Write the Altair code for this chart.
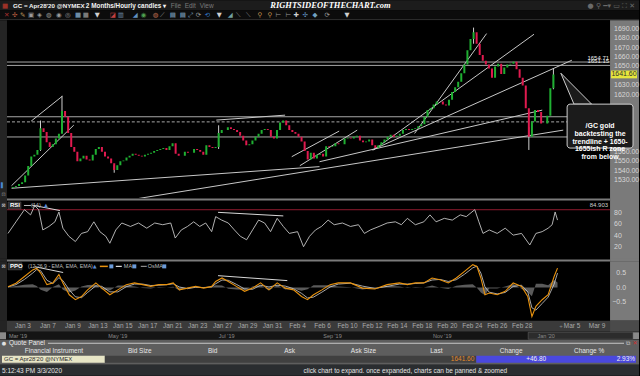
import altair as alt
import pandas as pd

FONT = "Liberation Sans"
NARROW = "Liberation Sans Narrow"
W = 640

# ---------------- data ----------------
# /GC (Apr '20) price, one value every quarter trading day, Jan 2 - Mar 3 2020
close = [1523, 1524, 1526, 1528, 1535, 1545, 1555, 1557, 1562, 1585,
         1581, 1570, 1565, 1568, 1574, 1579, 1603, 1597, 1580, 1565,
         1560, 1550, 1553, 1556, 1552, 1551, 1557, 1563, 1565, 1560,
         1555, 1553, 1548, 1541, 1546, 1550, 1551, 1554, 1556, 1558,
         1557, 1556, 1555, 1557, 1558, 1559, 1561, 1562, 1563, 1564,
         1562, 1566, 1569, 1558, 1556, 1556, 1560, 1559, 1559, 1563,
         1562, 1560, 1557, 1567, 1565, 1564, 1565, 1580, 1583, 1583,
         1586, 1584, 1583, 1581, 1577, 1572, 1567, 1568, 1572, 1576,
         1579, 1583, 1584, 1583, 1576, 1574, 1583, 1591, 1593, 1588,
         1583, 1581, 1579, 1576, 1571, 1561, 1552, 1559, 1553, 1557,
         1558, 1555, 1566, 1565, 1566, 1569, 1568, 1568, 1574, 1575,
         1574, 1576, 1577, 1572, 1570, 1571, 1573, 1567, 1564, 1567,
         1570, 1573, 1576, 1578, 1576, 1577, 1579, 1583, 1584, 1583,
         1584, 1585, 1587, 1589, 1597, 1604, 1606, 1610, 1613, 1613,
         1610, 1609, 1615, 1623, 1628, 1634, 1643, 1652, 1667, 1679,
         1686, 1674, 1662, 1656, 1652, 1648, 1638, 1650, 1653, 1642,
         1649, 1652, 1653, 1655, 1647, 1638, 1630, 1606, 1576, 1592,
         1604, 1602, 1590, 1590, 1598, 1627, 1641.6]
first_open = 1522
spike_bar = [9, 16, 33, 67, 150, 168, 176]
spike_high = [1593, 1619, 1546, 1588, 1691, 1586, 1648]
spike_low = [1561, 1596, 1538, 1563, 1674, 1562, 1626]

level_price = [1654.71, 1651.15, 1597.0, 1575.7]
dashed_level = [1591.6]
price_ticks = [1690, 1680, 1670, 1660, 1650, 1630, 1620, 1560, 1550, 1540, 1530]
last_price = 1641.60

# drawn trendlines (trading-day index, price)
trend_d1 = [-0.31, 1.29, -0.31, 9.29, 24.76, 16.36, 22.5, 23.16, 32.5, 29.16, 29.03]
trend_p1 = [1524.3, 1592.4, 1521.6, 1509.3, 1549.6, 1593.5, 1554.9, 1545.4, 1579.4, 1561.9, 1561.9]
trend_d2 = [4.76, 3.83, 24.76, 44.6, 42.89, 21.96, 26.36, 27.83, 38.36, 42.22, 45.3]
trend_p2 = [1588.2, 1618.7, 1544.4, 1582.9, 1604.0, 1598.7, 1581.9, 1582.9, 1684.7, 1684.0, 1656.6]

# RSI(14)
rsi_t = [-0.20, 0.44, 1.12, 1.61, 1.94, 2.26, 2.59, 3.08, 3.56, 3.88, 4.20, 4.68, 5.20, 5.69,
         6.18, 6.68, 7.16, 7.64, 7.96, 8.44, 8.92, 9.61, 10.26, 10.92, 11.56, 12.20, 12.84,
         13.20, 13.69, 14.18, 14.68, 15.16, 15.64, 16.12, 16.44, 16.92, 17.45, 17.94, 18.42,
         18.92, 19.40, 19.88, 20.36, 20.84, 21.37, 21.86, 22.34, 23.00, 23.48, 23.96, 24.44,
         24.92, 25.45, 25.94, 26.60, 27.24, 27.88, 28.36, 28.84, 29.53, 30.18, 30.84, 31.32,
         31.80, 32.44, 33.12, 33.61, 34.10, 34.76, 35.40, 36.04, 36.52, 37.20, 37.53, 37.86,
         38.36, 39.00, 39.64, 40.28, 40.95, 41.61, 42.10, 42.60, 43.08, 43.40, 43.64, 43.83]
rsi_v = [44, 64, 85, 76, 92, 85, 50, 56, 64, 81, 53, 39, 30, 44, 47, 64, 47, 39, 27, 50,
         62, 56, 62, 53, 62, 59, 62, 36, 50, 56, 64, 56, 62, 47, 73, 67, 62, 50, 39, 33,
         50, 67, 62, 47, 70, 56, 44, 47, 21, 39, 50, 56, 67, 59, 62, 56, 59, 44, 50, 56,
         62, 64, 59, 70, 59, 64, 76, 64, 70, 67, 76, 73, 85, 64, 44, 50, 44, 53, 41, 44,
         24, 44, 47, 53, 59, 81, 67]
rsi_max = 84.903
rsi_ticks = [80, 60, 40, 20]
rsi_tl_d1 = [1.70, 16.63]
rsi_tl_v1 = [93, 80.4]
rsi_tl_d2 = [3.96, 21.86]
rsi_tl_v2 = [83.5, 74.2]

# PPO(12,26,9) and its MA
ppo_t = [-0.20, 0.44, 1.12, 1.78, 2.10, 2.42, 2.92, 3.40, 3.88, 4.20, 4.71, 5.20, 5.69, 6.18,
         6.84, 7.32, 7.96, 8.60, 9.28, 9.94, 10.59, 11.24, 11.88, 12.52, 13.04, 13.53, 14.18,
         14.84, 15.48, 16.12, 16.44, 16.95, 17.45, 18.10, 18.76, 19.40, 20.04, 20.71, 21.37,
         22.02, 22.68, 23.32, 23.80, 24.28, 24.95, 25.61, 26.26, 27.24, 28.20, 29.20, 30.18,
         31.16, 31.80, 32.44, 33.12, 33.78, 34.42, 35.08, 35.72, 36.38, 37.04, 37.37, 37.69,
         38.02, 38.36, 39.00, 39.64, 40.28, 40.95, 41.45, 41.78, 42.10, 42.60, 43.08, 43.56, 43.83]
ppo_v = [0.03, 0.15, 0.38, 0.61, 0.67, 0.50, 0.10, 0.16, 0.45, 0.16,
         -0.25, -0.42, -0.31, -0.08, 0.16, -0.02, -0.25, -0.08, 0.10, 0.16,
         0.10, 0.04, 0.10, 0.10, 0.16, -0.08, -0.02, 0.04, -0.02, 0.04,
         0.21, 0.33, 0.21, 0.04, -0.13, -0.02, 0.16, -0.08, 0.16, -0.02,
         -0.08, -0.31, -0.42, -0.25, -0.08, 0.10, 0.16, 0.16, -0.02, -0.05,
         0.10, 0.16, 0.10, 0.16, 0.16, 0.33, 0.27, 0.16, 0.33, 0.56,
         0.79, 0.73, 0.33, -0.25, -0.19, -0.25, -0.13, 0.16, 0.04, -0.31,
         -1.0, -0.65, -0.42, -0.25, 0.38, 0.67]
ppo_ma = [0.02, 0.10, 0.28, 0.50, 0.62, 0.58, 0.25, 0.14, 0.34, 0.24,
          -0.08, -0.32, -0.35, -0.17, 0.06, 0.04, -0.15, -0.15, 0.03, 0.12,
          0.12, 0.07, 0.08, 0.10, 0.13, 0.02, -0.04, 0.01, 0.00, 0.02,
          0.13, 0.26, 0.25, 0.11, -0.05, -0.06, 0.08, 0.02, 0.08, 0.05,
          -0.04, -0.20, -0.36, -0.33, -0.16, 0.02, 0.12, 0.15, 0.05, -0.03,
          0.04, 0.12, 0.12, 0.14, 0.16, 0.26, 0.28, 0.21, 0.27, 0.46,
          0.68, 0.74, 0.50, 0.02, -0.16, -0.22, -0.17, 0.04, 0.08, -0.15,
          -0.70, -0.78, -0.55, -0.33, 0.12, 0.50]
ppo_ticks = [0.5, 0.0, -0.5]
ppo_tl_d1 = [1.94, 16.63]
ppo_tl_v1 = [0.72, 0.41]
ppo_tl_d2 = [4.22, 22.18]
ppo_tl_v2 = [0.52, 0.24]

date_day = [1, 3, 5, 7, 9, 11, 13, 15, 17, 19, 21, 23, 25, 27, 29, 31, 33, 35, 37, 39, 41, 45, 47]
date_lab = ["Jan 3", "Jan 7", "Jan 9", "Jan 13", "Jan 15", "Jan 17", "Jan 21", "Jan 23",
            "Jan 27", "Jan 29", "Jan 31", "Feb 4", "Feb 6", "Feb 10", "Feb 12", "Feb 14",
            "Feb 18", "Feb 20", "Feb 24", "Feb 26", "Feb 28", "Mar 5", "Mar 9"]

# ---------------- frames ----------------
n = len(close)
candles = pd.DataFrame({
    "day": [-0.2 + 0.25 * i for i in range(n)],
    "o": [first_open] + close[:-1],
    "c": close,
})
spikes = pd.DataFrame({"day": [-0.2 + 0.25 * i for i in spike_bar], "hi": spike_high, "lo": spike_low})
levels = pd.DataFrame({"p": level_price})
dlevels = pd.DataFrame({"p": dashed_level})
trends = pd.DataFrame({"d1": trend_d1, "p1": trend_p1, "d2": trend_d2, "p2": trend_p2})
rsi = pd.DataFrame({"t": rsi_t, "v": rsi_v})
rsi_tl = pd.DataFrame({"d1": rsi_tl_d1, "v1": rsi_tl_v1, "d2": rsi_tl_d2, "v2": rsi_tl_v2})
ppo = pd.DataFrame({"t": ppo_t, "ppo": ppo_v, "ma": ppo_ma})
ppo_tl = pd.DataFrame({"d1": ppo_tl_d1, "v1": ppo_tl_v1, "d2": ppo_tl_d2, "v2": ppo_tl_v2})
dates = pd.DataFrame({"day": date_day, "lab": date_lab})
lastdf = pd.DataFrame({"p": [last_price]})
rsimaxdf = pd.DataFrame({"v": [rsi_max]})
pticks = pd.DataFrame({"p": price_ticks})
rticks = pd.DataFrame({"v": rsi_ticks})
oticks = pd.DataFrame({"v": ppo_ticks})

XS = alt.Scale(domain=[-0.84, 50.36], nice=False, zero=False)
YM = alt.Scale(domain=[1511.37, 1698.74], nice=False, zero=False)
YR = alt.Scale(domain=[0, 100], nice=False, zero=False)
YP = alt.Scale(domain=[-1.148, 0.886], nice=False, zero=False)

ONE = alt.Data(values=[{"k": 0}])
STRIP = "#7a7a7a"
AXLAB = "#d6d6d6"


def box(x, x2, y, y2, fill, stroke=None, sw=0, r=0):
    kw = dict(fill=fill)
    if stroke:
        kw.update(stroke=stroke, strokeWidth=sw)
    if r:
        kw["cornerRadius"] = r
    return alt.Chart(ONE).mark_rect(**kw).encode(
        x=alt.value(x), x2=alt.value(x2), y=alt.value(y), y2=alt.value(y2))


def label(s, x, y, size=7, color="#dddddd", align="left", weight="normal", font=FONT, style=None, lh=None):
    kw = dict(fontSize=size, color=color, align=align, baseline="middle", fontWeight=weight, font=font)
    if style:
        kw["fontStyle"] = style
    if lh:
        kw["lineHeight"] = lh
    return alt.Chart(ONE).mark_text(**kw).encode(x=alt.value(x), y=alt.value(y), text=alt.value(s))


def hline(x, x2, y, color, sw=1, dash=None):
    kw = dict(color=color, strokeWidth=sw)
    if dash:
        kw["strokeDash"] = dash
    return alt.Chart(ONE).mark_rule(**kw).encode(x=alt.value(x), x2=alt.value(x2), y=alt.value(y))


def ticklabels(df, field, scale, fmt, x, align="left"):
    return alt.Chart(df).mark_text(fontSize=7, font=FONT, color=AXLAB, align=align,
                                   baseline="middle").encode(
        y=alt.Y(f"{field}:Q", scale=scale, axis=None), x=alt.value(x),
        text=alt.Text(f"{field}:Q", format=fmt))


def row(layers, h):
    return alt.layer(*layers).properties(width=W, height=h)


# ---------------- header ----------------
hdr = [box(0, W, 0, 10, "#1c1c1c"), box(0, W, 10, 19, "#0c0c0c"), box(0, W, 19, 20, "#3a3a3a"),
       label("▦", 5, 5.5, 6.5, "#c0392b", align="center", font="DejaVu Sans"),
       label("GC = Apr28'20 @NYMEX", 13, 5.5, 6.2, "#f2f2f2", weight="bold"),
       label("2 Months/Hourly candles ▾", 86, 5.5, 6.4, "#f2f2f2", weight="bold"),
       label("File", 171, 5.5, 6.5, "#7a7a7a"), label("Edit", 185, 5.5, 6.5, "#7a7a7a"),
       label("View", 200, 5.5, 6.5, "#7a7a7a"),
       label("RIGHTSIDEOFTHECHART.com", 331, 5, 8.5, "#ffffff", align="center", weight="bold",
             font=NARROW, style="italic"),
       label("●  ⚲  ━▾  ▭ ⛶ ✕", 636, 5.5, 7, "#6a6a6a", align="right", font="DejaVu Sans")]
icons = [("✕", "#b03030"), ("✣", "#c06040"), ("✎", "#c9a060"), ("▣", "#9a9a9a"), ("◈", "#9a9a9a"),
         ("◍", "#9a9a9a"), ("◉", "#9a9a9a"), ("◎", "#9a9a9a"), ("▦", "#8ab0d0"), ("▦", "#9a9a9a"),
         ("▼", "#d0d0d0"), ("◪", "#c04040"), ("▥", "#7090b0"), ("◢", "#6090c0"), ("◉", "#50a050"),
         ("◍", "#c07050"), ("⟋", "#9a9a9a"), ("▤", "#8ab0d0"), ("▤", "#8ab0d0"), ("⤢", "#8ab0d0"),
         ("⟳", "#9a9a9a"), ("⟲", "#3070c0"), ("▼", "#d0d0d0"), ("◢", "#70a0a0"), ("⟍", "#9a9a9a"),
         ("⟍", "#9a9a9a"), ("⚲", "#c09050"), ("⚲", "#c09050"), ("⊢", "#9a9a9a"), ("⊢", "#9a9a9a"),
         ("✚", "#d0d0d0"), ("✣", "#6090c0"), ("◆", "#70a0c0"), ("⟳", "#9a9a9a"), ("▼", "#d0d0d0")]
icon_x = [4, 12, 20, 28, 37, 46, 56, 65, 75, 83, 95, 110, 118, 133, 141, 153, 160, 170, 180, 188,
          196, 205, 217, 228, 236, 246, 258, 268, 276, 286, 294, 303, 313, 325, 345]
for (g, col), xx in zip(icons, icon_x):
    hdr.append(label(g, xx, 14.5, 6.5, col, font="DejaVu Sans"))
header = row(hdr, 20)

# ---------------- main price panel ----------------
H1 = 178
main_layers = [
    box(0, W, 0, H1, "#000000"),
    box(0, 7, 0, H1, "#242424"),
    box(611, W, 0, H1, STRIP),
    label("▌", 3, 165, 5, "#4a8ad8", align="center", font="DejaVu Sans"),
    label("⊡", 3.5, 174, 5, "#9a9a9a", align="center", font="DejaVu Sans"),
    ticklabels(pticks, "p", YM, ".2f", 615),
    alt.Chart(levels).mark_rule(color="#a8a8a8", strokeWidth=1).encode(
        y=alt.Y("p:Q", scale=YM, axis=None), x=alt.value(7), x2=alt.value(611)),
    alt.Chart(dlevels).mark_rule(color="#a8a8a8", strokeWidth=1, strokeDash=[3, 2]).encode(
        y=alt.Y("p:Q", scale=YM, axis=None), x=alt.value(7), x2=alt.value(611)),
    alt.Chart(trends).mark_rule(color="#c8c8c8", strokeWidth=1, clip=True).encode(
        x=alt.X("d1:Q", scale=XS, axis=None), x2="d2:Q",
        y=alt.Y("p1:Q", scale=YM, axis=None), y2="p2:Q"),
    alt.Chart(spikes).mark_rule(color="#cfcfcf", strokeWidth=1).encode(
        x=alt.X("day:Q", scale=XS, axis=None), y=alt.Y("lo:Q", scale=YM, axis=None), y2="hi:Q"),
    alt.Chart(candles).mark_bar(size=2.0, clip=True).encode(
        x=alt.X("day:Q", scale=XS, axis=None),
        y=alt.Y("o:Q", scale=YM, axis=None), y2="c:Q",
        color=alt.condition("datum.c >= datum.o", alt.value("#1fb032"), alt.value("#e01a4f"))),
    alt.Chart(levels.iloc[:2]).mark_text(fontSize=6, font=FONT, color="#e8e8e8", align="right",
                                          baseline="bottom", dy=-1).encode(
        y=alt.Y("p:Q", scale=YM, axis=None), x=alt.value(610), text=alt.Text("p:Q", format=".2f")),
    alt.Chart(lastdf).mark_point(shape="M-1,-0.3H1V0.3H-1Z", size=676, filled=True, opacity=1,
                                 color="#e6e63c").encode(
        y=alt.Y("p:Q", scale=YM, axis=None), x=alt.value(625)),
    alt.Chart(lastdf).mark_text(fontSize=7, font=FONT, color="#303030", align="center",
                                baseline="middle").encode(
        y=alt.Y("p:Q", scale=YM, axis=None), x=alt.value(625), text=alt.Text("p:Q", format=".2f")),
    # callout
    alt.Chart(ONE).mark_point(shape="M-1,-1L-0.15,1L0.99,1Z", size=961, filled=True, opacity=1,
                              fill="#1b1b1b", stroke="#d0d0d0", strokeWidth=1).encode(
        x=alt.value(577.2), y=alt.value(68.5)),
    box(568, 634, 84, 128, "#1b1b1b", stroke="#d0d0d0", sw=1, r=3),
    label(["/GC gold", "backtesting the", "trendline + 1650-", "1655ish R zone", "from below"],
          601, 106, 7, "#ffffff", align="center", weight="bold", lh=7.8),
]
main = row(main_layers, H1)


def sep():
    return row([box(0, W, 0, 3, "#000000"), box(0, 7, 0, 3, "#242424"),
                box(7, 611, 0.5, 2.5, "#7a7a7a"), box(611, W, 0, 3, STRIP)], 3)


# ---------------- RSI panel ----------------
H3 = 58
rsi_layers = [
    box(0, W, 0, H3, "#000000"),
    box(0, 7, 0, H3, "#242424"),
    box(611, W, 0, H3, STRIP),
    label("⊠", 3.5, 4.5, 5, "#cfcfcf", align="center", font="DejaVu Sans"),
    ticklabels(rticks, "v", YR, "d", 615),
    alt.Chart(rsimaxdf).mark_rule(color="#8e1a2e", strokeWidth=1).encode(
        y=alt.Y("v:Q", scale=YR, axis=None), x=alt.value(7), x2=alt.value(611)),
    alt.Chart(rsi).mark_line(color="#c4c4c4", strokeWidth=0.9, clip=True).encode(
        x=alt.X("t:Q", scale=XS, axis=None), y=alt.Y("v:Q", scale=YR, axis=None)),
    alt.Chart(rsi_tl).mark_rule(color="#d8d8d8", strokeWidth=1).encode(
        x=alt.X("d1:Q", scale=XS, axis=None), x2="d2:Q",
        y=alt.Y("v1:Q", scale=YR, axis=None), y2="v2:Q"),
    label("84.903", 609, 4, 6, "#cfcfcf", align="right"),
    box(8, 21, 1, 8, "#2a2a2a", stroke="#5a5a5a", sw=0.5),
    label("RSI", 10, 4.5, 6, "#ffffff", weight="bold"),
    hline(24, 31, 4.5, "#bdbdbd", 1),
    label("(14)", 31, 4.5, 5.5, "#bdbdbd"),
    label("▲", 44, 4.5, 5, "#5a8ad0", font="DejaVu Sans"),
]
rsi_row = row(rsi_layers, H3)

# ---------------- PPO panel ----------------
H5 = 59
ppo_layers = [
    box(0, W, 0, H5, "#000000"),
    box(0, 7, 0, H5, "#242424"),
    box(611, W, 0, H5, STRIP),
    label("⊠", 3.5, 4.5, 5, "#cfcfcf", align="center", font="DejaVu Sans"),
    ticklabels(oticks, "v", YP, ".1f", 627, align="right"),
    alt.Chart(ppo).transform_calculate(h="datum.ppo - datum.ma").mark_area(
        color="#5a5a5a", opacity=1, clip=True).encode(
        x=alt.X("t:Q", scale=XS, axis=None), y=alt.Y("h:Q", scale=YP, axis=None),
        y2=alt.datum(0)),
    alt.Chart(ppo).mark_line(color="#d0d0d0", strokeWidth=0.8, clip=True).encode(
        x=alt.X("t:Q", scale=XS, axis=None), y=alt.Y("ma:Q", scale=YP, axis=None)),
    alt.Chart(ppo).mark_line(color="#e8920e", strokeWidth=1.1, clip=True).encode(
        x=alt.X("t:Q", scale=XS, axis=None), y=alt.Y("ppo:Q", scale=YP, axis=None)),
    alt.Chart(ppo_tl).mark_rule(color="#d8d8d8", strokeWidth=1).encode(
        x=alt.X("d1:Q", scale=XS, axis=None), x2="d2:Q",
        y=alt.Y("v1:Q", scale=YP, axis=None), y2="v2:Q"),
    box(8, 22, 1, 8, "#2a2a2a", stroke="#5a5a5a", sw=0.5),
    label("PPO", 10, 4.5, 6, "#ffffff", weight="bold"),
    label("(12,26,9 - EMA, EMA, EMA)", 28, 4.5, 5.2, "#bdbdbd"),
    label("▲", 93, 4.5, 5, "#5a8ad0", font="DejaVu Sans"),
    hline(100, 108, 4.5, "#e8920e", 1.5),
    box(109.5, 113.5, 2.5, 6.5, "#6a9ad8"),
    hline(116, 122, 4.5, "#d9d9d9", 1.2),
    label("MA", 124, 4.5, 5.5, "#bdbdbd"),
    box(132.5, 136.5, 2.5, 6.5, "#6a9ad8"),
    hline(141, 147, 4.5, "#8a8a8a", 1.2),
    label("OsMA", 148, 4.5, 5.5, "#bdbdbd"),
    box(162.5, 166.5, 2.5, 6.5, "#6a9ad8"),
]
ppo_row = row(ppo_layers, H5)

# ---------------- date row ----------------
date_row = row([
    box(0, W, 0, 11, "#3a3a3a"),
    box(0, 7, 0, 11, "#242424"),
    box(611, W, 0, 11, "#4a4a4a"),
    alt.Chart(dates).mark_text(fontSize=6.5, font=FONT, color="#a9a9a9", baseline="middle").encode(
        x=alt.X("day:Q", scale=XS, axis=None), y=alt.value(5.5), text="lab:N"),
    label("+", 562, 5.5, 6, "#8a8a8a", align="center"),
], 11)

# ---------------- history scroll row ----------------
scroll_row = row([
    box(0, W, 0, 8, "#141414"),
    box(0, 6, 0.5, 7.5, "#8a8a8a"),
    box(634, W, 0.5, 7.5, "#8a8a8a"),
    box(529, 634, 0.5, 7.5, "#2c2c2c", stroke="#6a6a6a", sw=0.5),
    label("Mar '19", 9, 4, 5.5, "#8a8a8a"),
    label("May '19", 118, 4, 5.5, "#8a8a8a", align="center"),
    label("Jul '19", 227, 4, 5.5, "#8a8a8a", align="center"),
    label("Sep '19", 333, 4, 5.5, "#8a8a8a", align="center"),
    label("Nov '19", 443, 4, 5.5, "#8a8a8a", align="center"),
    label("Jan '20", 547, 4, 5.5, "#8a8a8a", align="center"),
], 8)

# ---------------- quote panel ----------------
quote_row = row([
    box(0, W, 0, 25, "#5e5e5e"),
    label("●", 4, 3.5, 5, "#e0e0e0", align="center", font="DejaVu Sans"),
    label("Quote Panel", 9, 3.5, 6.5, "#ececec"),
    hline(48, 625, 3.5, "#c8c8c8", 1),
    label("⧉", 629, 3.5, 6, "#c8c8c8", align="center", font="DejaVu Sans"),
    label("✕", 636, 3.5, 6, "#d03030", align="center", font="DejaVu Sans"),
    label("Financial Instrument", 54, 11.5, 6.5, "#e6e6e6", align="center"),
    label("Bid Size", 140, 11.5, 6.5, "#e6e6e6", align="center"),
    label("Bid", 213, 11.5, 6.5, "#e6e6e6", align="center"),
    label("Ask", 290, 11.5, 6.5, "#e6e6e6", align="center"),
    label("Ask Size", 364, 11.5, 6.5, "#e6e6e6", align="center"),
    label("Last", 437, 11.5, 6.5, "#e6e6e6", align="center"),
    label("Change", 512, 11.5, 6.5, "#e6e6e6", align="center"),
    label("Change %", 590, 11.5, 6.5, "#e6e6e6", align="center"),
    box(2, 105, 16, 23, "#e7e5c6"),
    box(105, 477, 16, 23, "#404040"),
    box(477, 637, 16, 23, "#4a48de"),
    label("GC = Apr28'20 @NYMEX", 4, 19.5, 6, "#2a2a2a"),
    label("1641.60", 475, 19.5, 6.5, "#e0892c", align="right"),
    label("+46.80", 537, 19.5, 6.5, "#f0f0f0", align="center"),
    label("2.93%", 636, 19.5, 6.5, "#f0f0f0", align="right"),
], 25)

# ---------------- status bar ----------------
status_row = row([
    box(0, W, 0, 11, "#2a2d30"),
    label("5:12:43 PM 3/3/2020", 2, 6, 6.5, "#e4e4e4"),
    label("click chart to expand. once expanded, charts can be panned & zoomed", 406, 6, 6.5,
          "#e4e4e4", align="center"),
], 11)

chart = alt.vconcat(header, main, sep(), rsi_row, sep(), ppo_row, date_row, scroll_row,
                    quote_row, status_row, spacing=0, bounds="flush").properties(
    padding=0
).configure(background="#000000").configure_view(stroke=None)

chart.save("out.html", embed_options={"renderer": "svg", "actions": False})
